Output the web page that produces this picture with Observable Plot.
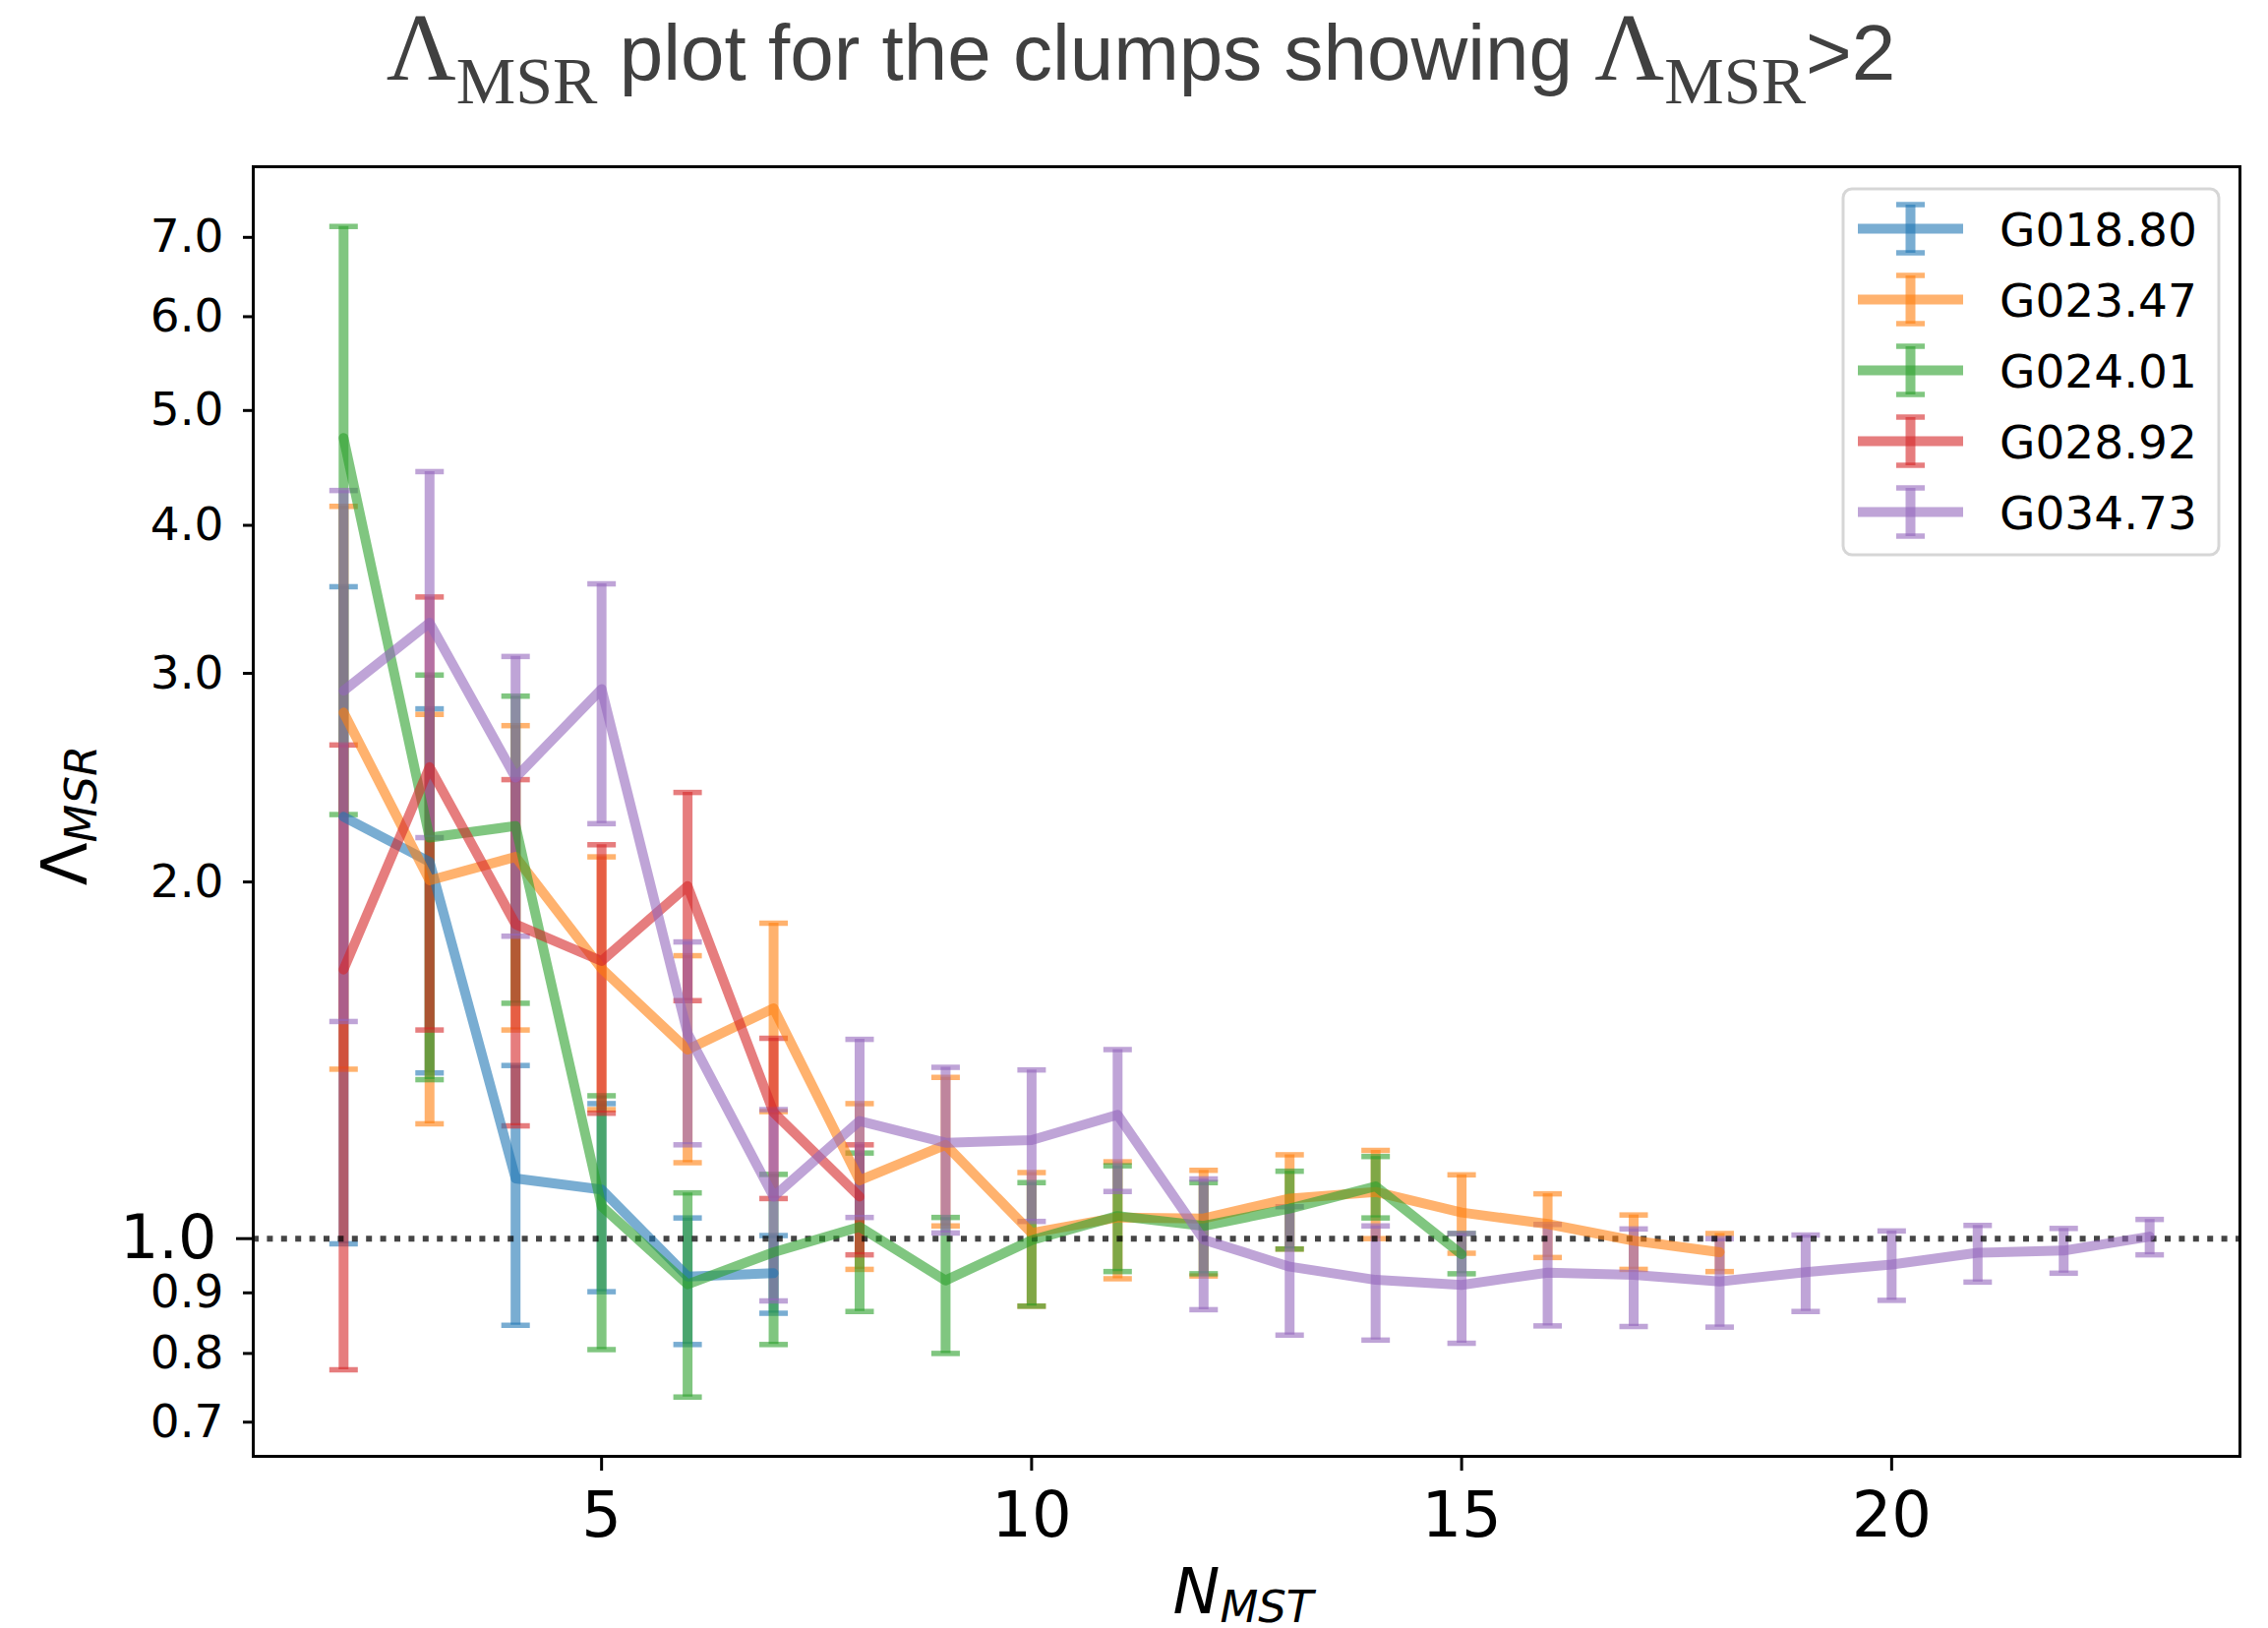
<!DOCTYPE html>
<html>
<head>
<meta charset="utf-8">
<script src="https://cdn.jsdelivr.net/npm/d3@7"></script>
<script src="https://cdn.jsdelivr.net/npm/@observablehq/plot@0.6"></script>
<style>
  html, body { margin: 0; padding: 0; background: #fff; overflow: hidden; }
  #title { display: block; overflow: visible; }
  #chart svg { display: block; }
</style>
</head>
<body>
<svg id="title" width="2306" height="130" xmlns="http://www.w3.org/2000/svg">
  <text x="1160" y="81" text-anchor="middle" fill="#404040" font-family="Liberation Sans" font-size="80" style="white-space:pre"><tspan font-family="Liberation Serif" font-size="98">Λ</tspan><tspan font-family="Liberation Serif" font-size="68" dy="24">MSR</tspan><tspan dy="-24"> plot for the clumps showing </tspan><tspan font-family="Liberation Serif" font-size="98">Λ</tspan><tspan font-family="Liberation Serif" font-size="68" dy="24">MSR</tspan><tspan dy="-24">&gt;2</tspan></text>
</svg>
<div id="chart"></div>
<script>
// ---------------- data ----------------
const seriesNames = ["G018.80", "G023.47", "G024.01", "G028.92", "G034.73"];
const seriesColors = ["#1f77b4", "#ff7f0e", "#2ca02c", "#d62728", "#9467bd"];

const nG01880  = [2, 3, 4, 5, 6, 7];
const vG01880  = [2.27, 2.08, 1.124, 1.10, 0.929, 0.935];
const loG01880 = [0.99, 1.38, 0.845, 0.902, 0.814, 0.865];
const hiG01880 = [3.55, 2.80, 1.40, 1.30, 1.041, 1.006];

const nG02347  = [2, 3, 4, 5, 6, 7, 8, 9, 10, 11, 12, 13, 14, 15, 16, 17, 18];
const vG02347  = [2.78, 2.006, 2.10, 1.69, 1.444, 1.565, 1.12, 1.20, 1.011, 1.042, 1.040, 1.081, 1.095, 1.052, 1.029, 0.996, 0.974];
const loG02347 = [1.39, 1.25, 1.50, 1.285, 1.159, 1.28, 0.942, 1.025, 0.877, 0.925, 0.930, 0.980, 1.0, 0.972, 0.964, 0.942, 0.938];
const hiG02347 = [4.15, 2.77, 2.71, 2.10, 1.733, 1.846, 1.30, 1.368, 1.137, 1.161, 1.142, 1.177, 1.187, 1.132, 1.091, 1.047, 1.010];

const nG02401  = [2, 3, 4, 5, 6, 7, 8, 9, 10, 11, 12, 13, 14, 15];
const vG02401  = [4.74, 2.18, 2.23, 1.065, 0.915, 0.974, 1.023, 0.922, 0.997, 1.045, 1.025, 1.060, 1.107, 0.970];
const loG02401 = [2.28, 1.362, 1.58, 0.806, 0.735, 0.814, 0.868, 0.800, 0.877, 0.938, 0.934, 0.980, 1.041, 0.934];
const hiG02401 = [7.15, 2.99, 2.87, 1.32, 1.093, 1.133, 1.181, 1.042, 1.115, 1.152, 1.115, 1.140, 1.173, 1.01];

const nG02892  = [2, 3, 4, 5, 6, 7, 8];
const vG02892  = [1.687, 2.50, 1.842, 1.715, 1.984, 1.278, 1.085];
const loG02892 = [0.775, 1.50, 1.245, 1.276, 1.588, 1.081, 0.969];
const hiG02892 = [2.61, 3.48, 2.44, 2.15, 2.38, 1.476, 1.20];

const nG03473  = [2, 3, 4, 5, 6, 7, 8, 9, 10, 11, 12, 13, 14, 15, 16, 17, 18, 19, 20, 21, 22, 23];
const vG03473  = [2.90, 3.31, 2.45, 2.91, 1.49, 1.085, 1.257, 1.205, 1.211, 1.272, 0.998, 0.947, 0.923, 0.914, 0.936, 0.932, 0.920, 0.937, 0.951, 0.973, 0.977, 1.004];
const loG03473 = [1.525, 2.18, 1.80, 2.24, 1.20, 0.886, 1.042, 1.011, 1.034, 1.096, 0.871, 0.829, 0.821, 0.816, 0.844, 0.843, 0.842, 0.868, 0.887, 0.919, 0.935, 0.969];
const hiG03473 = [4.28, 4.44, 3.10, 3.57, 1.78, 1.285, 1.473, 1.395, 1.388, 1.444, 1.123, 1.064, 1.025, 1.01, 1.028, 1.019, 1.0, 1.007, 1.015, 1.026, 1.020, 1.038];

const yTicks = [0.7, 0.8, 0.9, 2.0, 3.0, 4.0, 5.0, 6.0, 7.0];
const yRefTick = [1.0];
const xTicks = [5, 10, 15, 20];
const refLevel = [1.0];

// ---------------- build table ----------------
const seriesData = [
  [nG01880, vG01880, loG01880, hiG01880],
  [nG02347, vG02347, loG02347, hiG02347],
  [nG02401, vG02401, loG02401, hiG02401],
  [nG02892, vG02892, loG02892, hiG02892],
  [nG03473, vG03473, loG03473, hiG03473]
];
const rows = [];
seriesNames.forEach((s, k) => {
  const [ns, vs, los, his] = seriesData[k];
  ns.forEach((n, i) => rows.push({series: s, n, v: vs[i], lo: los[i], hi: his[i]}));
});

const LW = 10;     // line / error-bar width
const CAPW = 5.5;  // cap thickness
const ALPHA = 0.6;

// horizontal cap symbol
const capSymbol = {
  draw(context, size) {
    const r = Math.sqrt(size / Math.PI);
    context.moveTo(-r, 0);
    context.lineTo(r, 0);
  }
};

const errMarks = [];
seriesNames.forEach(s => {
  const d = rows.filter(r => r.series === s);
  errMarks.push(Plot.ruleX(d, {x: "n", y1: "lo", y2: "hi", stroke: "series", strokeWidth: LW, strokeOpacity: ALPHA}));
  errMarks.push(Plot.dot(d, {x: "n", y: "hi", symbol: capSymbol, r: 14.5, fill: "none", stroke: "series", strokeWidth: CAPW, strokeOpacity: ALPHA}));
  errMarks.push(Plot.dot(d, {x: "n", y: "lo", symbol: capSymbol, r: 14.5, fill: "none", stroke: "series", strokeWidth: CAPW, strokeOpacity: ALPHA}));
});

const plot = Plot.plot({
  width: 2306,
  height: 1525,
  marginLeft: 257,
  marginRight: 29,
  marginTop: 39,
  marginBottom: 175,
  style: {background: "white", fontFamily: "DejaVu Sans", color: "black", overflow: "visible"},
  x: {domain: [0.95, 24.05]},
  y: {type: "log", domain: [0.655, 8.03]},
  color: {domain: seriesNames, range: seriesColors},
  marks: [
    ...errMarks,
    Plot.ruleY(refLevel, {stroke: "black", strokeOpacity: 0.73, strokeWidth: 6, strokeDasharray: "6,8.4"}),
    Plot.line(rows, {x: "n", y: "v", z: "series", stroke: "series", strokeWidth: LW, strokeOpacity: ALPHA}),
    Plot.frame({stroke: "black", strokeWidth: 3}),
    Plot.axisY(yTicks, {anchor: "left", tickSize: 10, tickPadding: 20, fontSize: 47, strokeWidth: 3, tickFormat: d3.format(".1f"), label: null}),
    Plot.axisY(yRefTick, {anchor: "left", tickSize: 17, tickPadding: 20, fontSize: 62, strokeWidth: 3, tickFormat: d3.format(".1f"), label: null}),
    Plot.axisX(xTicks, {anchor: "bottom", tickSize: 15, tickPadding: 21, fontSize: 64, strokeWidth: 3, tickFormat: d3.format("d"), label: null})
  ]
});

document.getElementById("chart").appendChild(plot);

// ---------------- axis labels ----------------
const svg = d3.select(plot);
const xl = svg.append("text")
  .attr("x", 1264).attr("y", 1510)
  .attr("text-anchor", "middle")
  .attr("font-family", "DejaVu Sans").attr("font-style", "italic")
  .attr("fill", "black");
xl.append("tspan").attr("font-size", 64).text("N");
xl.append("tspan").attr("font-size", 45).attr("dy", 9).text("MST");

const yl = svg.append("text")
  .attr("transform", "translate(88,699) rotate(-90)")
  .attr("text-anchor", "middle")
  .attr("font-family", "DejaVu Sans")
  .attr("fill", "black");
yl.append("tspan").attr("font-size", 64).text("Λ");
yl.append("tspan").attr("font-size", 45).attr("font-style", "italic").attr("dy", 10).text("MSR");

// ---------------- legend ----------------
const color = plot.scale("color");
const lg = svg.append("g");
lg.append("rect")
  .attr("x", 1874).attr("y", 62).attr("width", 382).attr("height", 372).attr("rx", 9)
  .attr("fill", "white").attr("fill-opacity", 0.8)
  .attr("stroke", "#cccccc").attr("stroke-opacity", 0.8).attr("stroke-width", 3);
seriesNames.forEach((s, i) => {
  const cy = 102.5 + 72 * i;
  const c = color.apply(s);
  lg.append("line").attr("x1", 1942.5).attr("x2", 1942.5).attr("y1", cy - 24.5).attr("y2", cy + 24.5)
    .attr("stroke", c).attr("stroke-opacity", ALPHA).attr("stroke-width", LW);
  [cy - 24.5, cy + 24.5].forEach(yy => {
    lg.append("line").attr("x1", 1928).attr("x2", 1957).attr("y1", yy).attr("y2", yy)
      .attr("stroke", c).attr("stroke-opacity", ALPHA).attr("stroke-width", CAPW);
  });
  lg.append("line").attr("x1", 1889).attr("x2", 1996).attr("y1", cy).attr("y2", cy)
    .attr("stroke", c).attr("stroke-opacity", ALPHA).attr("stroke-width", LW);
  lg.append("text").attr("x", 2033).attr("y", cy + 17)
    .attr("text-anchor", "start")
    .attr("font-family", "DejaVu Sans").attr("font-size", 47).attr("fill", "black")
    .text(s);
});
</script>
</body>
</html>
